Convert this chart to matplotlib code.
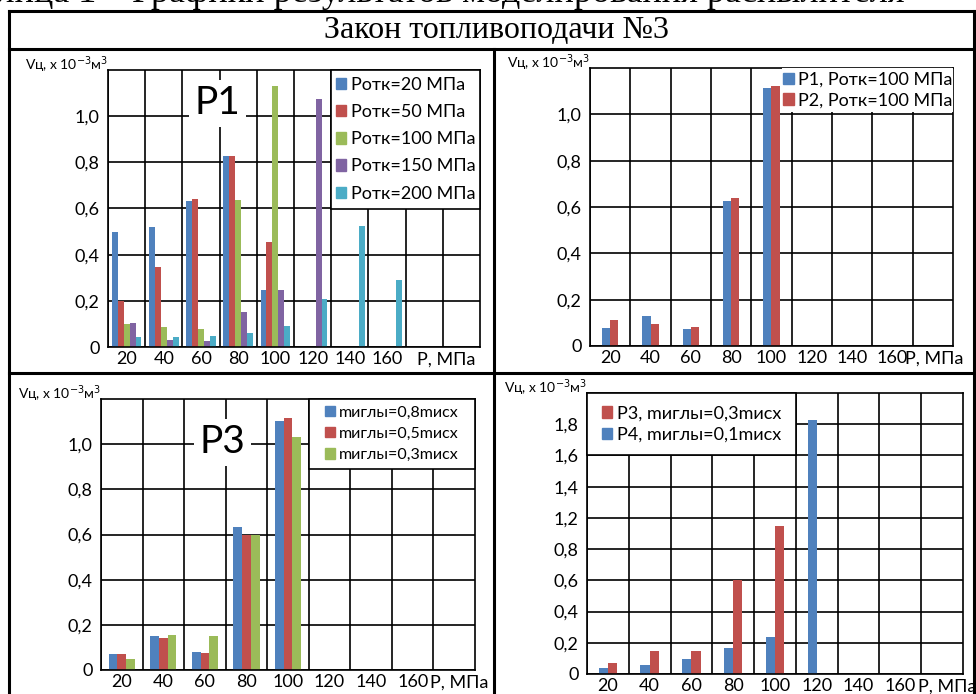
import matplotlib.pyplot as plt
import numpy as np
from matplotlib.lines import Line2D
from matplotlib.patches import Rectangle

W, H = 976, 694

BLUE = '#4F81BD'
RED = '#C0504D'
GREEN = '#9BBB59'
PURPLE = '#8064A2'
CYAN = '#4BACC6'

# P1: ten pressure groups (last two empty)
p1_labels = ['20', '40', '60', '80', '100', '120', '140', '160', '', '']
p1_names = ['Ротк=20 МПа', 'Ротк=50 МПа', 'Ротк=100 МПа', 'Ротк=150 МПа', 'Ротк=200 МПа']
p1_r20 = [0.50, 0.52, 0.633, 0.829, 0.245, 0, 0, 0, 0, 0]
p1_r50 = [0.20, 0.348, 0.64, 0.829, 0.454, 0, 0, 0, 0, 0]
p1_r100 = [0.10, 0.087, 0.08, 0.636, 1.13, 0, 0, 0, 0, 0]
p1_r150 = [0.105, 0.032, 0.028, 0.151, 0.245, 1.076, 0, 0, 0, 0]
p1_r200 = [0.044, 0.042, 0.049, 0.061, 0.09, 0.207, 0.524, 0.291, 0, 0]

# P1 vs P2 at Ротк=100 МПа
p2_labels = ['20', '40', '60', '80', '100', '120', '140', '160', '']
p2_names = ['P1, Ротк=100 МПа', 'P2, Ротк=100 МПа']
p2_p1 = [0.076, 0.13, 0.074, 0.625, 1.115, 0, 0, 0, 0]
p2_p2 = [0.113, 0.094, 0.081, 0.638, 1.123, 0, 0, 0, 0]

# P3: needle mass variants
p3_labels = ['20', '40', '60', '80', '100', '120', '140', '160', '']
p3_names = ['mиглы=0,8mисх', 'mиглы=0,5mисх', 'mиглы=0,3mисх']
p3_m08 = [0.071, 0.152, 0.078, 0.631, 1.103, 0, 0, 0, 0]
p3_m05 = [0.071, 0.143, 0.074, 0.60, 1.117, 0, 0, 0, 0]
p3_m03 = [0.047, 0.156, 0.152, 0.60, 1.03, 0, 0, 0, 0]

# P3 vs P4 (values in grid units of 0.2 per line; axis labels as printed)
p4_labels = ['20', '40', '60', '80', '100', '120', '140', '160', '']
p4_names = ['P3, mиглы=0,3mисх', 'P4, mиглы=0,1mисх']
p4_p4 = [0.04, 0.058, 0.094, 0.169, 0.239, 1.63, 0, 0, 0]
p4_p3 = [0.068, 0.149, 0.147, 0.60, 0.949, 0, 0, 0, 0]
p4_yticklabels = ['0', '0,2', '0,4', '0,6', '0,8', '1,2', '1,4', '1,6', '1,8']

plt.rcParams['font.family'] = ['Lato', 'DejaVu Sans']

fig = plt.figure(figsize=(W / 100, H / 100), dpi=100)


def px_axes(left, top, right, bottom):
    return fig.add_axes([left / W, 1 - bottom / H, (right - left) / W, (bottom - top) / H])


def fig_line(x0, y0, x1, y1, lw=2.2):
    fig.add_artist(Line2D([x0 / W, x1 / W], [1 - y0 / H, 1 - y1 / H],
                          color='black', linewidth=lw, transform=fig.transFigure))


def style_axes(ax, n, labels, ymax, yticks, yticklabels, unit_x):
    ax.set_xlim(-0.5, n - 0.5)
    ax.set_ylim(0, ymax)
    ax.set_xticks(np.arange(n) - 0.5, minor=True)
    ax.set_xticks(np.arange(n))
    ax.set_xticklabels(labels, fontsize=13)
    ax.set_yticks(yticks)
    ax.set_yticklabels(yticklabels, fontsize=13)
    ax.tick_params(axis='both', which='both', length=0)
    ax.tick_params(axis='x', pad=3)
    ax.tick_params(axis='y', pad=6)
    ax.grid(True, which='minor', axis='x', color='black', linewidth=1.2)
    ax.grid(True, which='major', axis='y', color='black', linewidth=1.2)
    ax.set_axisbelow(True)
    for s in ax.spines.values():
        s.set_color('black')
        s.set_linewidth(1.2)
    # axis name sits in the tick-label row at the right end
    ax.annotate('Р, МПа', xy=(unit_x, 0), xycoords='axes fraction',
                xytext=(0, -3), textcoords='offset points', ha='left', va='top', fontsize=13,
                annotation_clip=False)
    ax.annotate('Vц, x 10$^{-3}$м$^{3}$', xy=(0, 1), xycoords='axes fraction',
                xytext=(0, 4), textcoords='offset points', ha='right', va='center', fontsize=10)


def draw_bars(ax, series, colors, width):
    k = len(series)
    x = np.arange(len(series[0]))
    for i, (vals, c) in enumerate(zip(series, colors)):
        ax.bar(x + (i - (k - 1) / 2) * width, vals, width=width, color=c, zorder=2)


def legend_box(ax, names, colors, box, fontsize, spacing, edge=True):
    x0, y0, w, h = box
    ax.add_patch(Rectangle((x0, y0), w, h, transform=ax.transAxes, facecolor='white',
                           edgecolor='black' if edge else 'none', linewidth=1.2, zorder=4,
                           clip_on=False))
    handles = [Rectangle((0, 0), 1, 1, color=c) for c in colors]
    leg = ax.legend(handles, names, loc='center', bbox_to_anchor=(x0, y0, w, h),
                    frameon=False, fontsize=fontsize, handlelength=0.6, handleheight=0.6,
                    handletextpad=0.25, labelspacing=spacing, borderaxespad=0, borderpad=0)
    leg.set_zorder(5)


def big_label(ax, text, x, y):
    ax.text(x, y, text, transform=ax.transAxes, ha='center', va='center', fontsize=28,
            zorder=3, bbox=dict(facecolor='white', edgecolor='none', pad=4))


# ---- panel 1
ax1 = px_axes(108, 70, 480, 347)
p1_colors = [BLUE, RED, GREEN, PURPLE, CYAN]
draw_bars(ax1, [p1_r20, p1_r50, p1_r100, p1_r150, p1_r200], p1_colors, 0.16)
style_axes(ax1, 10, p1_labels, 1.2, np.arange(0, 1.01, 0.2),
           ['0', '0,2', '0,4', '0,6', '0,8', '1,0'], 0.83)
legend_box(ax1, p1_names, p1_colors, (0.6, 0.5, 0.4, 0.5), 13, 0.62)
big_label(ax1, 'P1', 0.295, 0.88)

# ---- panel 2
ax2 = px_axes(590, 68, 953, 346)
draw_bars(ax2, [p2_p1, p2_p2], [BLUE, RED], 0.2)
style_axes(ax2, 9, p2_labels, 1.2, np.arange(0, 1.01, 0.2),
           ['0', '0,2', '0,4', '0,6', '0,8', '1,0'], 0.868)
legend_box(ax2, p2_names, [BLUE, RED], (0.53, 0.84, 0.47, 0.16), 13, 0.25, edge=False)

# ---- panel 3
ax3 = px_axes(101, 399, 475, 670)
p3_colors = [BLUE, RED, GREEN]
draw_bars(ax3, [p3_m08, p3_m05, p3_m03], p3_colors, 0.21)
style_axes(ax3, 9, p3_labels, 1.2, np.arange(0, 1.01, 0.2),
           ['0', '0,2', '0,4', '0,6', '0,8', '1,0'], 0.88)
legend_box(ax3, p3_names, p3_colors, (5 / 9, 0.742, 4 / 9, 0.258), 11.5, 0.45)
big_label(ax3, 'P3', 0.325, 0.84)

# ---- panel 4
ax4 = px_axes(587, 393, 963, 674)
draw_bars(ax4, [p4_p4, p4_p3], [BLUE, RED], 0.22)
style_axes(ax4, 9, p4_labels, 1.8, np.arange(0, 1.61, 0.2), p4_yticklabels, 0.88)
legend_box(ax4, p4_names, [RED, BLUE], (0, 7 / 9, 5 / 9, 2 / 9), 13, 0.3)

# ---- table frame and captions
fig_line(9, 11, 974, 11)
fig_line(9, 49, 974, 49)
fig_line(9, 11, 9, 694)
fig_line(974, 11, 974, 694)
fig_line(494, 49, 494, 694)
fig_line(9, 373, 974, 373)

fig.text(497 / W, 1 - 30 / H, 'Закон топливоподачи №3', ha='center', va='center',
         fontsize=23, family='Liberation Serif')
fig.text(905 / W, 1 - 2 / H, 'Таблица 1 – Графики результатов моделирования распылителя',
         ha='right', va='baseline', fontsize=26, family='Liberation Serif')

fig.savefig('out.png', dpi=100)
